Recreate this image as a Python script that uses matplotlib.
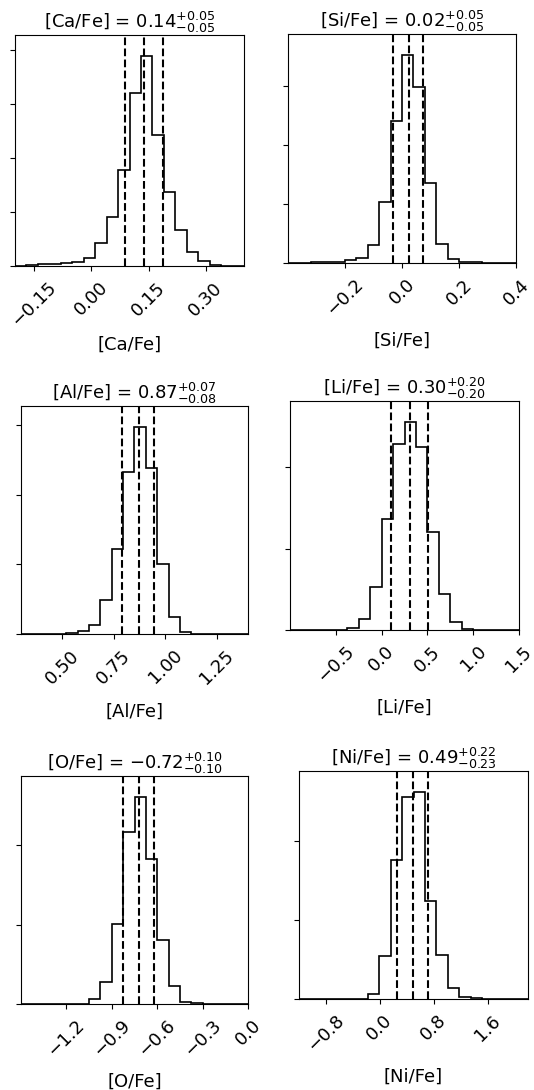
import numpy as np
import matplotlib
matplotlib.use("Agg")
import matplotlib.pyplot as plt
from matplotlib.ticker import MultipleLocator

plt.rcParams['font.size'] = 13

# parameter names
labels = ["[Ca/Fe]", "[Si/Fe]", "[Al/Fe]", "[Li/Fe]", "[O/Fe]", "[Ni/Fe]"]

# histogram ranges (20 bins each)
range_lo = [-0.20, -0.40, 0.30, -1.00, -1.50, -1.20]
range_hi = [0.40, 0.40, 1.40, 1.50, 0.00, 2.20]

# bin heights
counts_ca = [1, 4, 5, 7, 10, 12, 24, 69, 144, 284, 512, 622, 389, 220, 107, 40, 15, 2, 1, 0]
counts_si = [1, 1, 2, 2, 3, 9, 15, 55, 182, 422, 620, 523, 238, 57, 11, 4, 2, 1, 0, 0]
counts_al = [0, 0, 0, 1, 2, 9, 27, 104, 257, 487, 625, 500, 212, 50, 7, 1, 0, 0, 0, 0]
counts_li = [0, 0, 0, 0, 1, 7, 33, 128, 334, 558, 625, 550, 295, 107, 23, 4, 1, 0, 0, 0]
counts_o = [0, 0, 0, 0, 0, 1, 14, 65, 240, 517, 624, 436, 193, 55, 7, 2, 0, 0, 0, 0]
counts_ni = [0, 0, 0, 0, 0, 0, 14, 128, 416, 607, 622, 293, 131, 32, 7, 2, 0, 0, 0, 0]
all_counts = [counts_ca, counts_si, counts_al, counts_li, counts_o, counts_ni]

# 16th / 50th / 84th percentiles
q16 = [0.087, -0.032, 0.790, 0.105, -0.823, 0.258]
q50 = [0.137, 0.023, 0.872, 0.305, -0.723, 0.490]
q84 = [0.187, 0.075, 0.945, 0.503, -0.622, 0.715]

# numbers shown in titles
med = [0.14, 0.02, 0.87, 0.30, -0.72, 0.49]
err_minus = [0.05, 0.05, 0.08, 0.20, 0.10, 0.23]
err_plus = [0.05, 0.05, 0.07, 0.20, 0.10, 0.22]

# axis ticks
xticks = [[-0.15, 0.00, 0.15, 0.30],
          [-0.2, 0.0, 0.2, 0.4],
          [0.50, 0.75, 1.00, 1.25],
          [-0.5, 0.0, 0.5, 1.0, 1.5],
          [-1.2, -0.9, -0.6, -0.3, 0.0],
          [-0.8, 0.0, 0.8, 1.6]]
ytick_step = [160, 176, 210, 244, 239, 237]

# panel positions (left, top, right, bottom) in pixels
W, H = 534, 1090
boxes_px = [(15, 35, 244, 266), (288, 34, 516, 263),
            (21, 406, 248, 634), (290, 401, 519, 630),
            (21, 776, 248, 1004), (299, 771, 528, 999)]

fig = plt.figure(figsize=(W / 100, H / 100), dpi=100)

for i, lab in enumerate(labels):
    x0, y0, x1, y1 = boxes_px[i]
    ax = fig.add_axes([x0 / W, 1 - y1 / H, (x1 - x0) / W, (y1 - y0) / H])

    # step histogram + quantile lines
    edges = np.linspace(range_lo[i], range_hi[i], len(all_counts[i]) + 1)
    ax.stairs(all_counts[i], edges, color='k', lw=1.2)
    for q in (q16[i], q50[i], q84[i]):
        ax.axvline(q, ls='dashed', color='k', lw=1.5)

    ax.set_xlim(range_lo[i], range_hi[i])
    ax.set_ylim(0, 1.1 * max(all_counts[i]))

    title = "{0} = ${1:.2f}_{{-{2:.2f}}}^{{+{3:.2f}}}$".format(lab, med[i], err_minus[i], err_plus[i])
    ax.set_title(title, fontsize=13, pad=5)

    ax.set_xticks(xticks[i])
    ax.yaxis.set_major_locator(MultipleLocator(ytick_step[i]))
    ax.set_yticklabels([])
    ax.tick_params(axis='x', pad=5.5)
    for t in ax.get_xticklabels():
        t.set_rotation(45)

    ax.set_xlabel(lab)
    ax.xaxis.set_label_coords(0.5, -0.3)

plt.savefig('out.png', dpi=100)
